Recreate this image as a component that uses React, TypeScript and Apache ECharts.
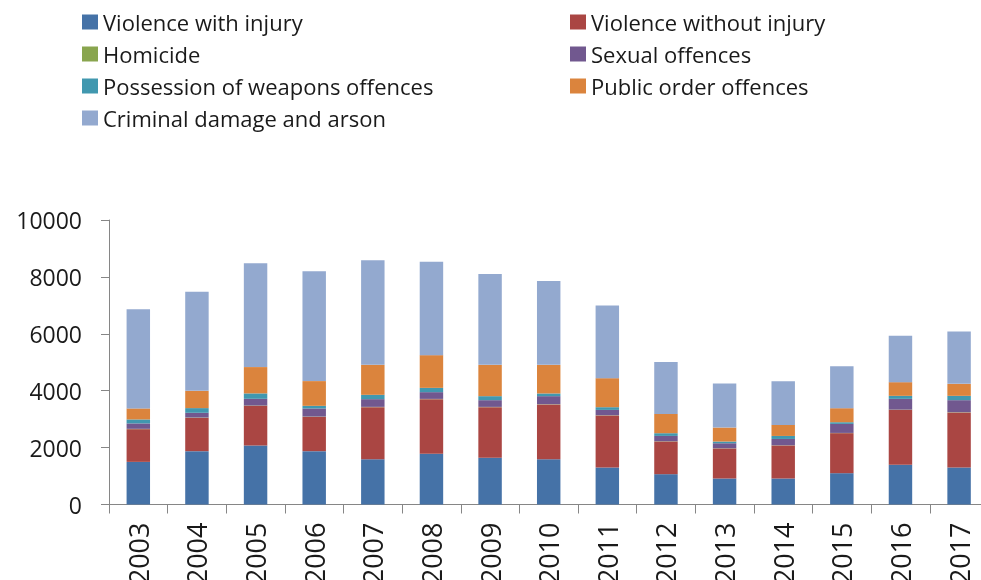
import React, { useEffect, useRef } from "react";
import * as echarts from "echarts";

const years = ["2003", "2004", "2005", "2006", "2007", "2008", "2009", "2010", "2011", "2012", "2013", "2014", "2015", "2016", "2017"];
const violenceWithInjury = [1498, 1875, 2075, 1875, 1593, 1780, 1639, 1593, 1301, 1066, 914, 914, 1101, 1393, 1301];
const violenceWithoutInjury = [1150, 1171, 1393, 1206, 1829, 1923, 1783, 1924, 1829, 1150, 1056, 1161, 1407, 1934, 1935];
const homicide = [12, 11, 11, 10, 10, 9, 9, 9, 8, 8, 7, 7, 8, 9, 9];
const sexualOffences = [190, 166, 236, 285, 271, 237, 236, 282, 187, 187, 176, 222, 317, 377, 422];
const weaponsOffences = [140, 165, 190, 92, 152, 151, 141, 95, 95, 95, 60, 106, 59, 106, 152];
const publicOrderOffences = [387, 608, 925, 869, 1055, 1150, 1101, 1006, 1020, 678, 492, 387, 493, 481, 421];
const criminalDamage = [3482, 3482, 3647, 3858, 3671, 3281, 3190, 2943, 2557, 1829, 1548, 1537, 1477, 1629, 1843];

const seriesNames = [
  "Violence with injury",
  "Violence without injury",
  "Homicide",
  "Sexual offences",
  "Possession of weapons offences",
  "Public order offences",
  "Criminal damage and arson",
];
const seriesData = [violenceWithInjury, violenceWithoutInjury, homicide, sexualOffences, weaponsOffences, publicOrderOffences, criminalDamage];
const colors = ["#4572A7", "#AA4643", "#89A54E", "#71588F", "#4198AF", "#DB843D", "#93A9CF"];

const leftLegend = ["Violence with injury", "Homicide", "Possession of weapons offences", "Criminal damage and arson"];
const rightLegend = ["Violence without injury", "Sexual offences", "Public order offences"];

const FONT = "'Open Sans', sans-serif";

export default function App() {
  const ref = useRef<HTMLDivElement>(null);
  useEffect(() => {
    if (!ref.current) return;
    const chart = echarts.init(ref.current, undefined, { renderer: "svg" });
    const legendCommon = {
      orient: "vertical" as const,
      top: 10,
      padding: 0,
      itemWidth: 16,
      itemHeight: 15,
      itemGap: 8,
      icon: "rect",
      textStyle: { fontFamily: FONT, fontSize: 22, color: "#1a1a1a", lineHeight: 24 },
    };
    chart.setOption({
      animation: false,
      color: colors,
      legend: [
        { ...legendCommon, left: 82, data: leftLegend },
        { ...legendCommon, left: 570, data: rightLegend },
      ],
      grid: { left: 109, right: -7.4, top: 220, bottom: 75.5, containLabel: false, outerBoundsMode: "none" },
      xAxis: {
        type: "category",
        data: years,
        axisLine: { lineStyle: { color: "#868686", width: 1 } },
        axisTick: { show: true, length: 9, lineStyle: { color: "#868686" } },
        axisLabel: {
          rotate: 90,
          margin: 18,
          fontFamily: FONT,
          fontSize: 27,
          color: "#1a1a1a",
          interval: 0,
        },
      },
      yAxis: {
        type: "value",
        min: 0,
        max: 10000,
        interval: 2000,
        axisLine: { show: true, lineStyle: { color: "#868686", width: 1 } },
        axisTick: { show: true, inside: false, length: 8, lineStyle: { color: "#868686" } },
        splitLine: { show: false },
        axisLabel: {
          margin: 27,
          fontFamily: FONT,
          fontSize: 23,
          color: "#1a1a1a",
          formatter: (v: number) => String(v),
        },
      },
      series: seriesNames.map((name, i) => ({
        name,
        type: "bar",
        stack: "total",
        barWidth: "40%",
        data: seriesData[i],
        itemStyle: { color: colors[i] },
      })),
    });
    return () => chart.dispose();
  }, []);
  return <div ref={ref} style={{ position: "fixed", left: 0, top: 0, width: 981, height: 580 }} />;
}
